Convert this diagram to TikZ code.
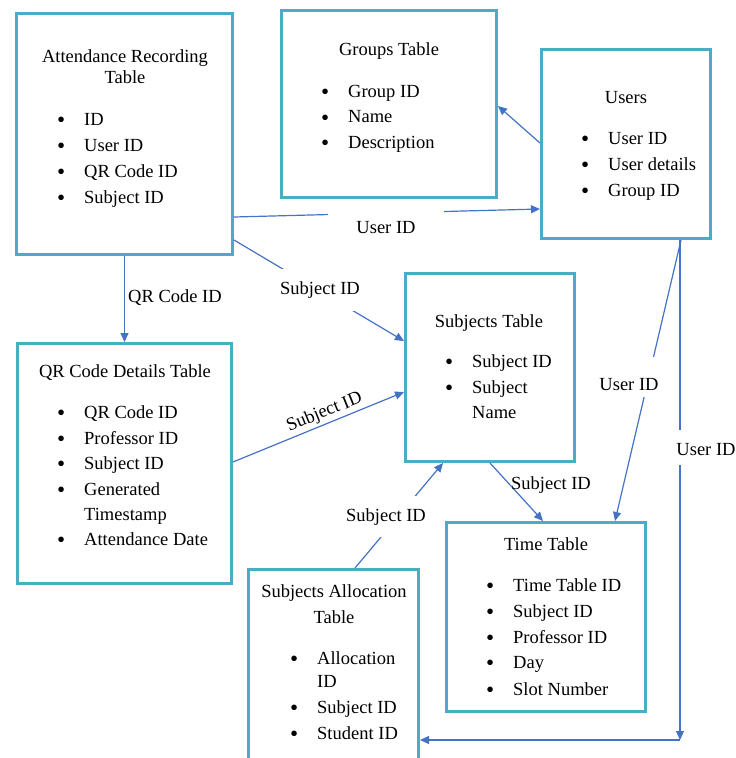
\documentclass[tikz,border=0pt]{standalone}
\usepackage{fontspec}
\setmainfont{Liberation Serif}
\usetikzlibrary{arrows.meta}
\definecolor{boxc}{RGB}{75,172,198}
\definecolor{arrc}{RGB}{68,114,196}
\newcommand\blt{\llap{\raisebox{-2.5pt}{\scalebox{1.25}{\textbullet}}\hspace{19pt}}}
\newcommand\txtfont{\fontsize{18.5}{26}\selectfont}
\begin{document}
\begin{tikzpicture}[x=1pt,y=-1pt,
  tbl/.style={draw=boxc,line width=3pt,anchor=north west,inner sep=0pt},
  ttl/.style={anchor=base,inner sep=0pt,font=\txtfont},
  fld/.style={anchor=base west,inner sep=0pt,font=\txtfont},
  conn/.style={draw=arrc,line width=1.2pt,-{Triangle[length=9pt,width=8pt]}},
  lbl/.style={anchor=base,inner sep=0pt,font=\txtfont},
  gaplbl/.style={anchor=base,fill=white,inner ysep=0pt,inner xsep=2pt,font=\txtfont}]
\useasboundingbox (0,0) rectangle (736,758);

% tables
\node[tbl,minimum width=216pt,minimum height=241pt] (att) at (15,12) {};
\node[tbl,minimum width=215pt,minimum height=187pt] (groups) at (280,9) {};
\node[tbl,minimum width=169pt,minimum height=189pt] (users) at (540,48) {};
\node[tbl,minimum width=214pt,minimum height=240pt] (qr) at (16,342) {};
\node[tbl,minimum width=169pt,minimum height=188pt] (subj) at (404,272) {};
\node[tbl,minimum width=199pt,minimum height=189pt] (time) at (445,521) {};
\node[tbl,minimum width=170pt,minimum height=240pt] (alloc) at (247,568) {};

% Attendance Recording Table
\node[ttl] (attT1) at (125,62) {Attendance Recording};
\node[ttl] (attT2) at (125,83) {Table};
\node[fld] (att1) at (84,125) {\blt ID};
\node[fld] (att2) at (84,151) {\blt User ID};
\node[fld] (att3) at (84,177) {\blt QR Code ID};
\node[fld] (att4) at (84,203) {\blt Subject ID};

% Groups Table
\node[ttl] (grT) at (389,55) {Groups Table};
\node[fld] (gr1) at (348,97) {\blt Group ID};
\node[fld] (gr2) at (348,122.5) {\blt Name};
\node[fld] (gr3) at (348,148) {\blt Description};

% Users
\node[ttl] (usT) at (626,103) {Users};
\node[fld] (us1) at (608,144) {\blt User ID};
\node[fld] (us2) at (608,170) {\blt User details};
\node[fld] (us3) at (608,196) {\blt Group ID};

% QR Code Details Table
\node[ttl] (qrT) at (125,377) {QR Code Details Table};
\node[fld] (qr1) at (84,418) {\blt QR Code ID};
\node[fld] (qr2) at (84,444) {\blt Professor ID};
\node[fld] (qr3) at (84,469) {\blt Subject ID};
\node[fld] (qr4) at (84,495) {\blt Generated};
\node[fld] (qr5) at (84,520) {Timestamp};
\node[fld] (qr6) at (84,545) {\blt Attendance Date};

% Subjects Table
\node[ttl] (sbT) at (489,327) {Subjects Table};
\node[fld] (sb1) at (472,367) {\blt Subject ID};
\node[fld] (sb2) at (472,393) {\blt Subject};
\node[fld] (sb3) at (472,418) {Name};

% Time Table
\node[ttl] (tmT) at (546,550) {Time Table};
\node[fld] (tm1) at (513,591) {\blt Time Table ID};
\node[fld] (tm2) at (513,617) {\blt Subject ID};
\node[fld] (tm3) at (513,643) {\blt Professor ID};
\node[fld] (tm4) at (513,668) {\blt Day};
\node[fld] (tm5) at (513,695) {\blt Slot Number};

% Subjects Allocation Table
\node[ttl] (alT1) at (334,597) {Subjects Allocation};
\node[ttl] (alT2) at (334,623) {Table};
\node[fld] (al1) at (317,664) {\blt Allocation};
\node[fld] (al2) at (317,687) {ID};
\node[fld] (al3) at (317,713) {\blt Subject ID};
\node[fld] (al4) at (317,739) {\blt Student ID};

% connectors
\coordinate (corner) at (680,740);
\draw[conn] (att.east |- 0,217) -- (users.west |- 0,209);
\draw[conn] (users.west |- 0,143) -- (groups.east |- 0,106);
\draw[conn] (att.south) -- (qr.north);
\draw[conn] (att.east |- 0,240) -- (subj.west |- 0,341);
\draw[conn] (qr.east |- 0,462) -- node[sloped,above=2pt,pos=0.56,font=\txtfont,inner sep=0pt] (lQS) {Subject ID} (subj.west |- 0,392);
\draw[conn] (alloc.north -| 355,0) -- (subj.south -| 443,0);
\draw[conn] (subj.south -| 490,0) -- (time.north -| 543,0);
\draw[conn] (users.south -| 681,0) -- (time.north -| 615,0);
\draw[conn] (users.south -| 680,0) -- (corner);
\draw[conn] (corner) -- (alloc.east |- corner);

% connector labels
\node[gaplbl,text height=25pt,text depth=10pt,inner xsep=28pt] (lUA) at (386,233) {User ID};
\node[anchor=base west,inner sep=0pt,font=\txtfont] (lQR) at (128,302) {QR Code ID};
\node[gaplbl,text height=25pt,text depth=17pt] (lAS) at (320,294) {Subject ID};
\node[gaplbl,text height=25pt,text depth=16pt] (lAl) at (386,521) {Subject ID};
\node[lbl] (lST) at (551,489) {Subject ID};
\node[gaplbl,text height=33pt,text depth=7pt] (lUT) at (629,390) {User ID};
\node[gaplbl,text height=25pt,text depth=10pt] (lUV) at (706,455) {User ID};
\end{tikzpicture}
\end{document}
